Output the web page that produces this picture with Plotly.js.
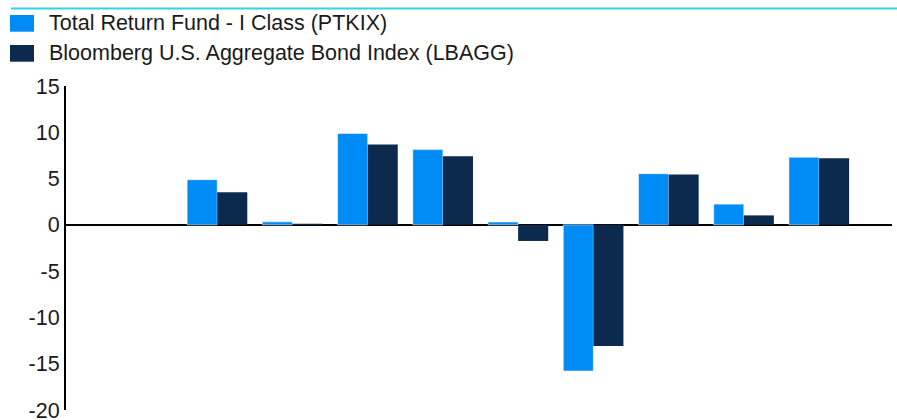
<!DOCTYPE html>
<html>
<head>
<meta charset="utf-8">
<script src="https://cdn.plot.ly/plotly-3.0.1.min.js"></script>
<style>
html,body{margin:0;padding:0;background:#fff;}
#chart{width:897px;height:420px;}
</style>
</head>
<body>
<div id="chart"></div>
<script>
// ---- data ----
var categories = ["2017", "2018", "2019", "2020", "2021", "2022", "2023", "2024", "2025"];
var fundName = "Total Return Fund - I Class (PTKIX)";
var indexName = "Bloomberg U.S. Aggregate Bond Index (LBAGG)";
var fundValues = [4.88, 0.33, 9.88, 8.13, 0.31, -15.79, 5.53, 2.24, 7.30];
var indexValues = [3.51, 0.12, 8.69, 7.42, -1.74, -13.09, 5.45, 1.02, 7.20];
var yTickValues = [-20, -15, -10, -5, 0, 5, 10, 15];

var fundColor = "#008cf7";
var indexColor = "#0c2a4e";
var font = "'Liberation Sans', Arial, sans-serif";
var textColor = "#1a1a1a";
var fontSize = 21.5;

var W = 897, H = 420;
var mL = 66, mR = 5, mT = 86, mB = 10;
var pw = W - mL - mR, ph = H - mT - mB;
function px(x){ return (x - mL) / pw; }
function py(y){ return (H - mB - y) / ph; }

var traces = [
  {
    type: "bar", name: fundName, x: categories, y: fundValues,
    marker: {color: fundColor, line: {color: "rgba(255,255,255,0.55)", width: 1}},
    showlegend: false, hoverinfo: "x+y+name"
  },
  {
    type: "bar", name: indexName, x: categories, y: indexValues,
    marker: {color: indexColor, line: {width: 0}},
    showlegend: false, hoverinfo: "x+y+name"
  }
];

var legendItems = [
  {name: fundName, color: fundColor, top: 15, bottom: 31.7, mid: 23},
  {name: indexName, color: indexColor, top: 45, bottom: 61.7, mid: 53}
];

var shapes = [
  {type: "line", xref: "paper", yref: "paper", x0: px(11), x1: px(899), y0: py(8.5), y1: py(8.5),
   line: {color: "#34d3ea", width: 2}}
];
var annotations = [];
legendItems.forEach(function(it){
  shapes.push({type: "rect", xref: "paper", yref: "paper",
    x0: px(10), x1: px(34), y0: py(it.bottom), y1: py(it.top),
    fillcolor: it.color, line: {width: 0}});
  annotations.push({xref: "paper", yref: "paper", x: px(47), y: py(it.mid),
    xanchor: "left", yanchor: "middle", showarrow: false, text: it.name,
    font: {family: font, size: fontSize, color: textColor}});
});

var layout = {
  width: W, height: H,
  margin: {l: mL, r: mR, t: mT, b: mB, pad: 0},
  paper_bgcolor: "#fff", plot_bgcolor: "#fff",
  barmode: "group", bargap: 0.2, bargroupgap: 0,
  showlegend: false,
  font: {family: font, size: fontSize, color: textColor},
  xaxis: {
    type: "category", range: [-2.01, 8.97],
    showticklabels: false, showgrid: false, zeroline: false, showline: false, ticks: ""
  },
  yaxis: {
    range: [-20, 15], tickvals: yTickValues, ticktext: yTickValues.map(String),
    showgrid: false, zeroline: true, zerolinecolor: "#000", zerolinewidth: 2,
    showline: true, linecolor: "#000", linewidth: 2, ticks: "",
    ticklabeloverflow: "allow",
    tickfont: {family: font, size: fontSize, color: textColor}
  },
  shapes: shapes,
  annotations: annotations
};

Plotly.newPlot("chart", traces, layout, {displayModeBar: false, staticPlot: true});
</script>
</body>
</html>
